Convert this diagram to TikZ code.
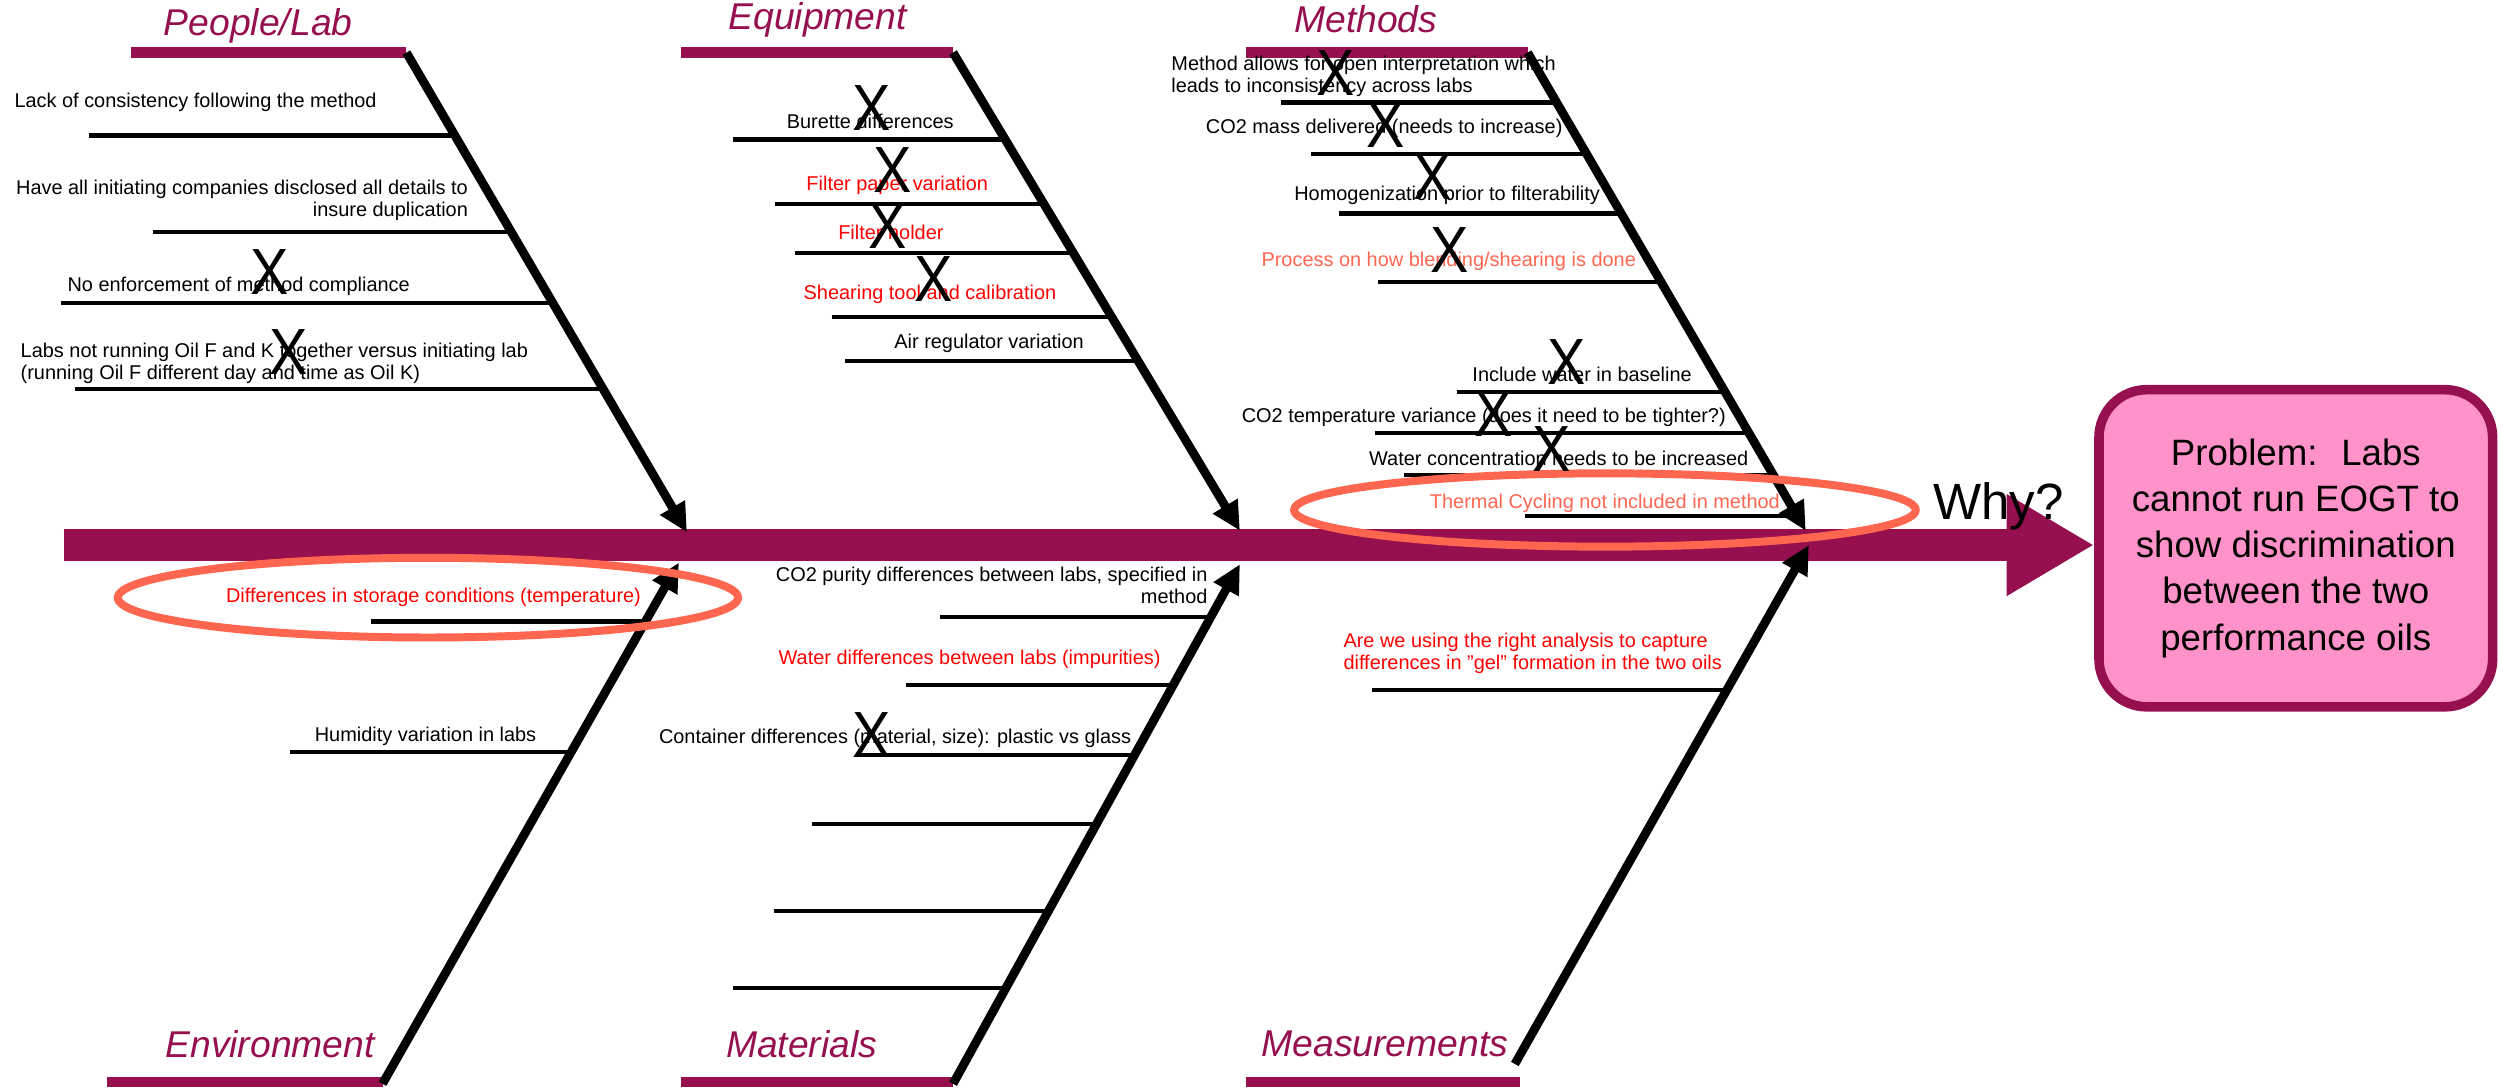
\documentclass[tikz,border=0pt]{standalone}
\usepackage{fontspec}
\setmainfont{Liberation Sans}
\usetikzlibrary{arrows.meta,shapes.geometric}

\definecolor{fishmaroon}{RGB}{150,16,80}
\definecolor{ringorange}{RGB}{255,102,80}
\definecolor{boxpink}{RGB}{255,146,200}

\begin{document}
\begin{tikzpicture}[
  x=0.5pt, y=-0.5pt,
  font=\fontsize{6.25}{6.9}\selectfont,
  head/.style={font=\fontsize{11.7}{12}\selectfont\itshape, text=fishmaroon, inner sep=0pt},
  headbar/.style={fishmaroon, line width=3.2pt},
  bone/.style={line width=2.75pt, -{Triangle[length=9pt,width=8.5pt]}},
  twig/.style={line width=1.3pt},
  cause/.style={inner sep=0pt},
  hot/.style={cause, text=red},
  soft/.style={cause, text=ringorange},
  xmark/.style={inner sep=0pt, font=\fontsize{20.5}{20.5}\selectfont},
  ring/.style={ellipse, draw=ringorange, line width=2.5pt, inner sep=0pt},
  spine/.style={fishmaroon, line width=10pt, -{Triangle[length=27.5pt,width=30pt]}},
  probbox/.style={rounded corners=15pt, draw=fishmaroon, line width=3pt, fill=boxpink, align=center, inner sep=0pt, minimum width=123.5pt, minimum height=99.5pt, font=\fontsize{11.5}{14.5}\selectfont},
]
  \useasboundingbox (0,0) rectangle (1568,683);

  \node[probbox] (problem) at (1440.5,344) {Problem:~ Labs\\cannot run EOGT to\\show discrimination\\between the two\\performance oils};
  \draw[spine] (40,342) -- (problem.west |- 40,342);
  \node[inner sep=0pt, font=\fontsize{16}{16}\selectfont] (why) at (1254,318) {Why?};

  \coordinate (plA) at (255,33);      \coordinate (plB) at (431,334);
  \coordinate (eqA) at (598,33);      \coordinate (eqB) at (778,333);
  \coordinate (meA) at (958.5,33);    \coordinate (meB) at (1133,333);
  \coordinate (enA) at (240,680);     \coordinate (enB) at (426,353);
  \coordinate (maA) at (598,680);     \coordinate (maB) at (778,354);
  \coordinate (msA) at (950.5,667.6); \coordinate (msB) at (1135,342);

  \node[head] (pl) at (162,16) {People/Lab};
  \node[head] (eq) at (513,12.5) {Equipment};
  \node[head] (me) at (857,12) {Methods};
  \node[head] (en) at (169.5,655) {Environment};
  \node[head] (ma) at (503,655) {Materials};
  \node[head] (ms) at (869,655) {Measurements};

  \draw[headbar] (82,33) -- (plA);
  \draw[headbar] (427,33) -- (eqA);
  \draw[headbar] (782,33) -- (meA);
  \draw[headbar] (67,679) -- (240,679);
  \draw[headbar] (427,679) -- (598,679);
  \draw[headbar] (782,679) -- (954,679);

  \foreach \y/\xa/\xb in {85/56/285.4, 145.5/96/320.8, 190/38.5/346.8, 244/47/378.4,
    87.5/460/630.7, 128/486/655, 159/499/673.6, 199/522/697.6, 226.5/530.5/714.1,
    64.3/804/976.7, 96.6/822.4/995.5, 134/840/1017.3, 177/864.4/1042.3, 246/914/1082.4,
    271.7/863/1097.4, 298/881/1112.6, 324/956.8/1127.8,
    390/233/405, 471.6/182/358.5,
    387/590/759.8, 429.7/568.6/736.2, 473.5/537.5/712, 517/509.5/688, 571.7/485.6/657.8, 619.7/460/631.3,
    433/861/1083.4}
    \draw[twig] (\xa,\y) -- (\xb,\y);

  \draw[bone] (plA) -- (plB);
  \draw[bone] (eqA) -- (eqB);
  \draw[bone] (meA) -- (meB);
  \draw[bone] (enA) -- (enB);
  \draw[bone] (maA) -- (maB);
  \draw[bone] (msA) -- (msB);

  \node[cause, anchor=west] (pl1) at (8.7,64) {Lack of consistency following the method};
  \node[cause, anchor=east, align=right] (pl2) at (294,126) {Have all initiating companies disclosed all details to\\insure duplication};
  \node[cause, anchor=west] (pl3) at (42,179.5) {No enforcement of method compliance};
  \node[cause, anchor=west, align=left] (pl4) at (12.6,228) {Labs not running Oil F and K together versus initiating lab\\(running Oil F different day and time as Oil K)};

  \node[cause] (eq1) at (546,76.4) {Burette differences};
  \node[hot] (eq2) at (563,116) {Filter paper variation};
  \node[hot] (eq3) at (559,146) {Filter holder};
  \node[hot] (eq4) at (583.5,184.7) {Shearing tool and calibration};
  \node[cause] (eq5) at (620.6,215.5) {Air regulator variation};

  \node[cause, anchor=west, align=left] (me1) at (734.6,48) {Method allows for open interpretation which\\leads to inconsistency across labs};
  \node[cause] (me2) at (868.5,80.7) {CO2 mass delivered (needs to increase)};
  \node[cause] (me3) at (908,122.7) {Homogenization prior to filterability};
  \node[soft] (me4) at (909,164) {Process on how blending/shearing is done};
  \node[cause] (me5) at (992.7,235) {Include water in baseline};
  \node[cause] (me6) at (931,261.7) {CO2 temperature variance (does it need to be tighter?)};
  \node[cause] (me7) at (978,287.4) {Water concentration needs to be increased};
  \node[soft] (me8) at (1007,316) {Thermal Cycling not included in method};

  \node[hot] (en1) at (272,374.7) {Differences in storage conditions (temperature)};
  \node[cause] (en2) at (267,462) {Humidity variation in labs};

  \node[cause, anchor=east, align=right] (ma1) at (758,367.5) {CO2 purity differences between labs, specified in\\method};
  \node[hot] (ma2) at (608.4,414) {Water differences between labs (impurities)};
  \node[cause] (ma3) at (561.6,463) {Container differences (material, size): plastic vs glass};

  \node[hot, anchor=west, align=left] (ms1) at (842.6,410) {Are we using the right analysis to capture\\differences in \char34 gel\char34{} formation in the two oils};

  \node[ring, minimum width=195pt, minimum height=23pt] (ring1) at (1007,320) {};
  \node[ring, minimum width=194.6pt, minimum height=25pt] (ring2) at (268.5,375) {};

  \foreach \px/\py [count=\i] in {169/170.6, 181/220.7, 547/68, 560/107, 557/142, 586/175,
    838/45.6, 869.6/78.6, 899/110.8, 909.7/157, 983/227, 937/259.7, 973.6/281.7, 546.7/461.5}
    \node[xmark] (x\i) at (\px,\py) {\scalebox{0.88}[1]{X}};
\end{tikzpicture}
\end{document}
